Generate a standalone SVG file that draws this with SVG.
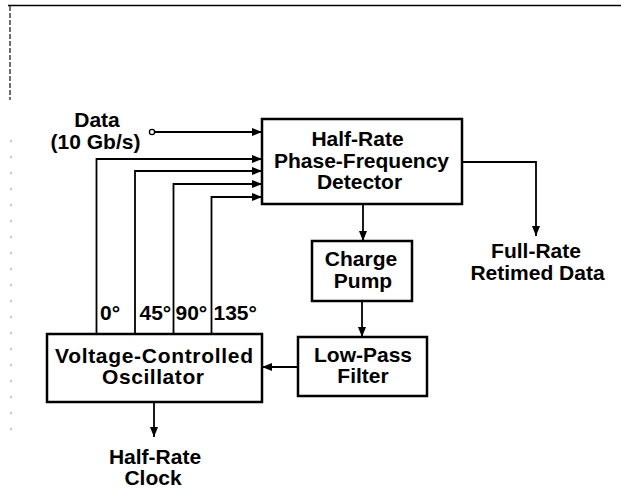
<svg xmlns="http://www.w3.org/2000/svg" width="621" height="502" viewBox="0 0 621 502">
<defs>
<style>
.box{fill:#fff;stroke:#000;stroke-width:2.5}
.ln{fill:none;stroke:#000;stroke-width:1.8}
.t{font-family:"Liberation Sans",Arial,sans-serif;font-weight:bold;font-size:21px;fill:#000;text-anchor:middle}
.ts{font-family:"Liberation Sans",Arial,sans-serif;font-weight:bold;font-size:21px;fill:#000}
</style>
<marker id="ah" viewBox="0 0 10 8" refX="10" refY="4" markerWidth="10" markerHeight="8" markerUnits="userSpaceOnUse" orient="auto">
<path d="M0,0 L10,4 L0,8 Z" fill="#000"/>
</marker>
</defs>
<rect width="621" height="502" fill="#fff"/>
<g id="frame">
<path d="M8,5.5 H621" stroke="#000" stroke-width="1.6" fill="none"/>
<path d="M10,6 V100" stroke="#333" stroke-width="1.4" stroke-dasharray="5,2" fill="none"/>
<path d="M11,140 V440" stroke="#888" stroke-width="1" stroke-dasharray="2,14" fill="none"/>
</g>
<g id="connectors">
<circle cx="152" cy="132" r="2.6" fill="#fff" stroke="#000" stroke-width="1.3"/>
<path class="ln" d="M155,132 H262" marker-end="url(#ah)"/>
<path class="ln" d="M96.5,334 V159 H262" marker-end="url(#ah)"/>
<path class="ln" d="M135,334 V171 H262" marker-end="url(#ah)"/>
<path class="ln" d="M173.5,334 V184 H262" marker-end="url(#ah)"/>
<path class="ln" d="M211.5,334 V197 H262" marker-end="url(#ah)"/>
<path class="ln" d="M363,204 V241" marker-end="url(#ah)"/>
<path class="ln" d="M462,162 H536 V236" marker-end="url(#ah)"/>
<path class="ln" d="M362,301 V337" marker-end="url(#ah)"/>
<path class="ln" d="M298,367 H262" marker-end="url(#ah)"/>
<path class="ln" d="M154,402 V437" marker-end="url(#ah)"/>
</g>
<g id="data-label">
<text class="t" x="97" y="127">Data</text>
<text class="t" x="95.5" y="148.5">(10 Gb/s)</text>
</g>
<g id="pfd">
<rect class="box" x="262" y="119" width="200" height="85"/>
<text class="t" x="357.5" y="146">Half-Rate</text>
<text class="t" x="361.5" y="167.5">Phase-Frequency</text>
<text class="t" x="359.5" y="189">Detector</text>
</g>
<g id="output-label">
<text class="t" x="536" y="257.5">Full-Rate</text>
<text class="t" x="537.5" y="280">Retimed Data</text>
</g>
<g id="charge-pump">
<rect class="box" x="312" y="241" width="100" height="60"/>
<text class="t" x="361" y="266">Charge</text>
<text class="t" x="363" y="287.5">Pump</text>
</g>
<g id="lpf">
<rect class="box" x="298" y="337" width="129" height="59"/>
<text class="t" x="363" y="361.5">Low-Pass</text>
<text class="t" x="363" y="383">Filter</text>
</g>
<g id="vco">
<rect class="box" x="47" y="334" width="215" height="68"/>
<text class="t" x="154" y="362.5" textLength="198" lengthAdjust="spacing">Voltage-Controlled</text>
<text class="t" x="153" y="384" textLength="102" lengthAdjust="spacing">Oscillator</text>
</g>
<g id="phase-labels">
<text class="ts" x="100" y="320">0°</text>
<text class="ts" x="139.5" y="320">45°</text>
<text class="ts" x="175.5" y="320">90°</text>
<text class="ts" x="213.5" y="320">135°</text>
</g>
<g id="clock-label">
<text class="t" x="155" y="463.5">Half-Rate</text>
<text class="t" x="153" y="485">Clock</text>
</g>
</svg>
